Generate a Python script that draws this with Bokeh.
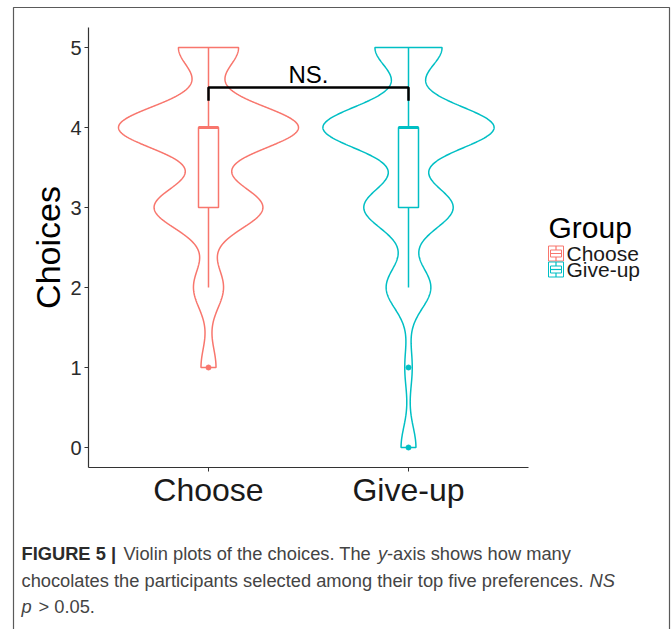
import numpy as np
from bokeh.plotting import figure
from bokeh.models import Range1d, LinearAxis, FixedTicker
from bokeh.core.properties import value
from bokeh.embed import file_html
from bokeh.resources import INLINE

# ---- data -------------------------------------------------------------
groups = ["Choose", "Give-up"]
group_colors = ["#F8766D", "#00BFC4"]
choice_levels = [0, 1, 2, 3, 4, 5]
# number of participants choosing k of their top-five chocolates
choose_counts = [0, 4, 8, 29, 48, 16]
giveup_counts = [4, 2, 12, 24, 46, 18]
y_ticks = [0, 1, 2, 3, 4, 5]
sig_y = 4.5
sig_tip = 0.165
sig_label = "NS."

FONT = value("Liberation Sans")


def bw_nrd0(x):
    sd = np.std(x, ddof=1)
    q75, q25 = np.percentile(x, [75, 25])
    lo = min(sd, (q75 - q25) / 1.34)
    return 0.9 * lo * len(x) ** -0.2


def kde(x, grid):
    h = bw_nrd0(x)
    z = (grid[:, None] - x[None, :]) / h
    return np.exp(-0.5 * z ** 2).sum(axis=1) / (len(x) * h * np.sqrt(2 * np.pi))


samples = [np.repeat(choice_levels, c).astype(float) for c in (choose_counts, giveup_counts)]
grids = [np.linspace(s.min(), s.max(), 512) for s in samples]
dens = [kde(s, g) for s, g in zip(samples, grids)]
dmax = max(d.max() for d in dens)  # violins scaled by area

# ---- figure: frame spans the whole canvas ------------------------------
W, H = 672, 629
p = figure(width=W, height=H, x_range=Range1d(-0.04, 3.32), y_range=Range1d(-2.275, 5.5875),
           x_axis_type=None, y_axis_type=None, toolbar_location=None,
           output_backend="svg", min_border=0, outline_line_color=None, title=None)
p.background_fill_color = "white"
p.border_fill_color = "white"
p.extra_x_ranges = {"px": Range1d(0, W)}
p.extra_y_ranges = {"px": Range1d(H, 0)}

# outer figure frame
p.quad(left=13, right=669, top=7, bottom=H + 10, fill_color=None, line_color="#5a5a5a",
       line_width=1.2, x_range_name="px", y_range_name="px")

# ---- violins + box plots ----------------------------------------------
for i, (s, g, d, col) in enumerate(zip(samples, grids, dens, group_colors)):
    cx = i + 1
    hw = 0.45 * d / dmax
    xs = np.concatenate([cx - hw, (cx + hw)[::-1]])
    ys = np.concatenate([g, g[::-1]])
    p.patch(xs, ys, fill_color="white", line_color=col, line_width=1.5)

    q1, med, q3 = np.percentile(s, [25, 50, 75])
    iqr = q3 - q1
    lo_w = s[s >= q1 - 1.5 * iqr].min()
    hi_w = s[s <= q3 + 1.5 * iqr].max()
    outl = np.unique(s[(s < q1 - 1.5 * iqr) | (s > q3 + 1.5 * iqr)])

    p.segment(x0=[cx, cx], y0=[q3, q1], x1=[cx, cx], y1=[hi_w, lo_w], line_color=col, line_width=1.5)
    p.quad(left=cx - 0.05, right=cx + 0.05, bottom=q1, top=q3, fill_color="white",
           line_color=col, line_width=1.5)
    p.segment(x0=cx - 0.05, y0=med, x1=cx + 0.05, y1=med, line_color=col, line_width=3)
    p.scatter(np.full(len(outl), cx), outl, size=5, color=col)

# ---- significance bracket ----------------------------------------------
p.line([1, 1, 2, 2], [sig_y - sig_tip, sig_y, sig_y, sig_y - sig_tip], line_color="black", line_width=2.5)
p.text(x=[1.5], y=[sig_y], text=[sig_label], text_align="center", text_baseline="bottom",
       text_font=FONT, text_font_size="24px", text_color="black")

# ---- axes (drawn at fixed data locations) ------------------------------
yaxis = LinearAxis(fixed_location=0.4, bounds=(-0.25, 5.25), ticker=FixedTicker(ticks=y_ticks),
                   axis_label="Choices")
xaxis = LinearAxis(fixed_location=-0.25, bounds=(0.4, 2.6), ticker=FixedTicker(ticks=[1, 2]),
                   major_label_overrides={1: groups[0], 2: groups[1]})
for ax in (yaxis, xaxis):
    ax.axis_line_color = "#333333"
    ax.axis_line_width = 1.2
    ax.major_tick_line_color = "#333333"
    ax.major_tick_in = 0
    ax.major_tick_out = 4
    ax.minor_tick_out = 0
    ax.minor_tick_in = 0
    ax.major_label_text_font = "Liberation Sans"
    ax.axis_label_text_font = "Liberation Sans"
yaxis.major_label_standoff = 3
yaxis.major_label_text_font_size = "20px"
yaxis.major_label_text_color = "#2b2b2b"
yaxis.axis_label_text_font_size = "34px"
yaxis.axis_label_text_font_style = "normal"
yaxis.axis_label_text_color = "black"
yaxis.axis_label_standoff = 0
xaxis.major_label_standoff = 0
xaxis.major_label_text_font_size = "32px"
xaxis.major_label_text_color = "#1a1a1a"
p.add_layout(yaxis, "left")
p.add_layout(xaxis, "below")

# ---- legend -------------------------------------------------------------
p.text(x=[548], y=[227], text=["Group"], text_font=FONT, text_font_size="30px",
       text_color="black", text_baseline="alphabetic", x_range_name="px", y_range_name="px")
for i, (name, col) in enumerate(zip(groups, group_colors)):
    top = 245.5 + 16 * i
    p.quad(left=548, right=563, top=top, bottom=top + 15, fill_color="white", line_color=col,
           line_width=1, x_range_name="px", y_range_name="px")
    p.quad(left=550, right=561, top=top + 4, bottom=top + 11, fill_color=None, line_color=col,
           line_width=1, x_range_name="px", y_range_name="px")
    p.segment(x0=[550, 555.5, 555.5], y0=[top + 7.5, top, top + 11], x1=[561, 555.5, 555.5],
              y1=[top + 7.5, top + 4, top + 15], line_color=col, line_width=1.2,
              x_range_name="px", y_range_name="px")
    p.text(x=[566], y=[253 + 16 * i], text=[name], text_font=FONT, text_font_size="21px",
           text_color="#1a1a1a", text_baseline="alphabetic", x_range_name="px", y_range_name="px")

# ---- caption ------------------------------------------------------------
caption_runs = [
    ("FIGURE 5 |", 21, 553, "bold"),
    ("Violin plots of the choices. The", 123, 553, "normal"),
    ("y", 377.5, 553, "italic"),
    ("-axis shows how many", 386.5, 553, "normal"),
    ("chocolates the participants selected among their top five preferences.", 21, 580, "normal"),
    ("NS", 589, 580, "italic"),
    ("p", 21, 606, "italic"),
    ("> 0.05.", 38, 606, "normal"),
]
for txt, x, y, style in caption_runs:
    p.text(x=[x], y=[y], text=[txt], text_font=FONT, text_font_size="18.3px",
           text_font_style=value(style), text_color="#2b2b2b" if style == "bold" else "#444444",
           text_baseline="alphabetic", x_range_name="px", y_range_name="px")

open("out.html", "w").write(file_html(p, INLINE))
